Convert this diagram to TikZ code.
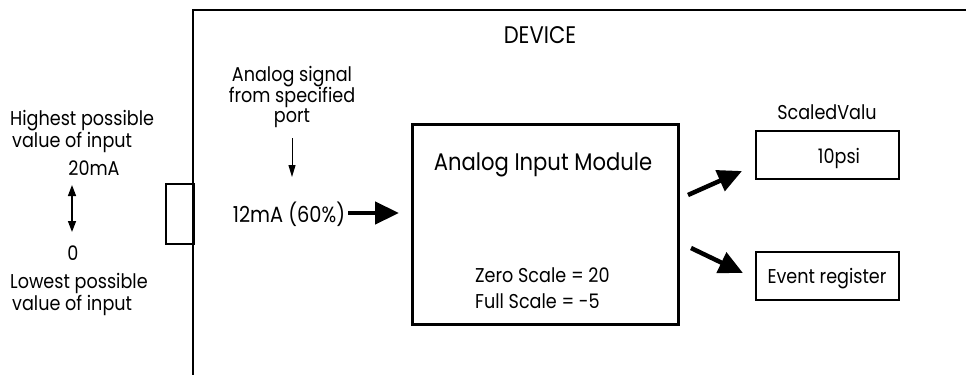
\documentclass[tikz,border=0pt]{standalone}
\usepackage{fontspec}
\setmainfont{Poppins}[FakeStretch=0.88]
\usetikzlibrary{arrows.meta}
\begin{document}
\begin{tikzpicture}[x=1pt,y=-1pt,
  txt/.style={inner sep=0pt,anchor=base},
  big/.style={font=\fontsize{24}{26}\selectfont},
  cur/.style={font=\fontsize{22}{24}\selectfont},
  med/.style={font=\fontsize{20}{22}\selectfont},
  sml/.style={font=\fontsize{20}{22}\selectfont},
  boxline/.style={draw,line width=1.5pt},
  fat/.style={line width=4.5pt,-{Triangle[length=24pt,width=22pt]}},
  thin/.style={line width=1pt,-{Triangle[length=12pt,width=7pt]}},
  dbl/.style={line width=1.5pt,{Triangle[length=11pt,width=8pt]}-{Triangle[length=11pt,width=8pt]}}]
\useasboundingbox (0,0) rectangle (966,375);
% device outline (open on right and bottom)
\draw[line width=2pt] (966,10) -- (193,10) -- (193,375);
\node[boxline,anchor=north west,minimum width=28pt,minimum height=60pt,inner sep=0pt] (port) at (165,183) {};
\node[txt,big] (dev) at (540,43) {DEVICE};
% left labels
\node[txt,sml,anchor=base west] (hi1) at (10,125) {Highest possible};
\node[txt,sml,anchor=base west] (hi2) at (12,147) {value of input};
\node[txt,sml] (v20) at (94,175) {20mA};
\coordinate (rtop) at (72,185);
\coordinate (rbot) at (72,232);
\draw[dbl] (rtop) -- (rbot);
\node[txt,sml] (v0) at (73,260) {0};
\node[txt,sml,anchor=base west] (lo1) at (10,288) {Lowest possible};
\node[txt,sml,anchor=base west] (lo2) at (12,310) {value of input};
% analog signal
\node[txt,med] (sig1) at (292,81) {Analog signal};
\node[txt,med] (sig2) at (292,102) {from specified};
\node[txt,med] (sig3) at (292,122) {port};
\coordinate (dtop) at (292,138);
\coordinate (dbot) at (292,177);
\draw[thin] (dtop) -- (dbot);
\node[txt,cur] (cur) at (289,222) {12mA (60\%)};
% module
\node[draw,line width=2.5pt,anchor=north west,minimum width=266pt,minimum height=200pt,inner sep=0pt] (mod) at (411,123) {};
\node[txt,big] (modt) at (543,170) {Analog Input Module};
\node[txt,med,anchor=base west] (zs) at (475,282) {Zero Scale = 20};
\node[txt,med,anchor=base west] (fs) at (475,308) {Full Scale = -5};
\coordinate (c1) at (348,213);
\coordinate (c2) at (399,213);
\draw[fat] (c1) -- (c2);
% outputs
\node[boxline,anchor=north west,minimum width=143pt,minimum height=48pt,inner sep=0pt] (sv) at (755,130) {};
\node[txt,med] (svl) at (827,119) {ScaledValu};
\node[txt,med] (svv) at (839,163) {10psi};
\node[boxline,anchor=north west,minimum width=143pt,minimum height=48pt,inner sep=0pt] (ev) at (755,251) {};
\node[txt,med] (evt) at (827,283) {Event register};
\coordinate (a1s) at (688,195);
\coordinate (a1e) at (742,171);
\coordinate (a2s) at (691,248);
\coordinate (a2e) at (743,273);
\draw[fat] (a1s) -- (a1e);
\draw[fat] (a2s) -- (a2e);
\end{tikzpicture}
\end{document}
